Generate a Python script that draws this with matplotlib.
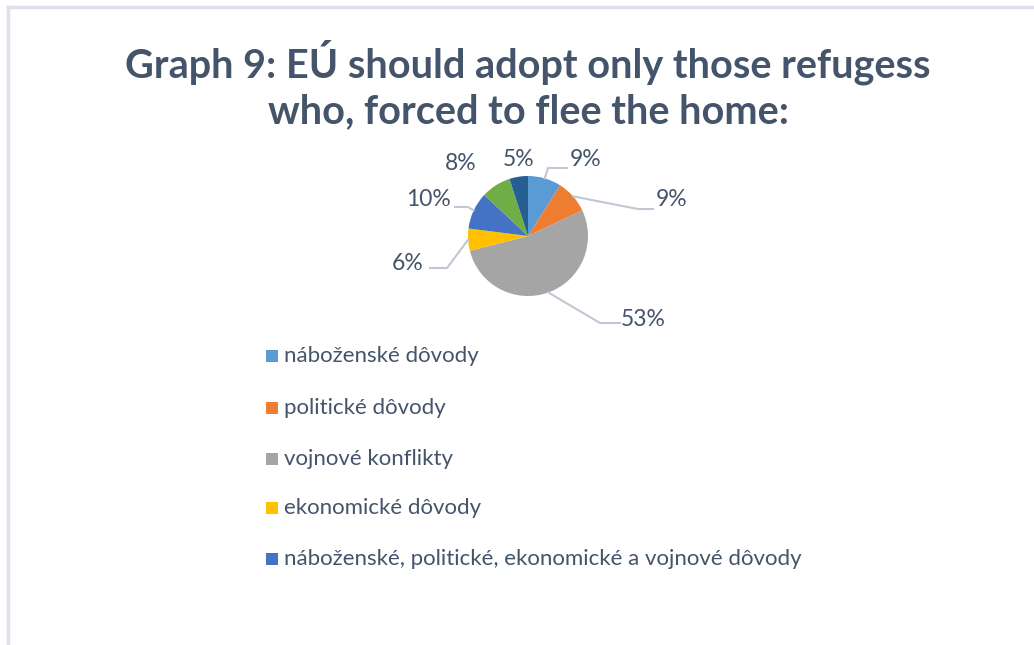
import matplotlib
matplotlib.use("Agg")
import matplotlib.pyplot as plt
import numpy as np
from matplotlib.patches import Rectangle
from matplotlib.lines import Line2D

categories = ["náboženské dôvody", "politické dôvody", "vojnové konflikty",
              "ekonomické dôvody", "náboženské, politické, ekonomické a vojnové dôvody",
              "iné dôvody", "nevie"]
values = [9, 9, 53, 6, 10, 8, 5]
labels = ["9%", "9%", "53%", "6%", "10%", "8%", "5%"]
colors = ["#5B9BD5", "#ED7D31", "#A5A5A5", "#FFC000", "#4472C4", "#70AD47", "#255E91"]
legend_shown = 5

W, H = 1034, 645
fig = plt.figure(figsize=(W / 100, H / 100), dpi=100)
ax = fig.add_axes([0, 0, 1, 1])
plt.rcParams['font.family'] = ['Lato', 'DejaVu Sans']

cx, cy, R = 528, H - 236, 60
wedges, _ = ax.pie(values, startangle=90, counterclock=False, center=(cx, cy),
                   radius=R, colors=colors, wedgeprops=dict(linewidth=0))
ax.set_xlim(0, W)
ax.set_ylim(0, H)
ax.set_aspect("equal")
ax.axis("off")

txt_col = "#44546A"
line_col = "#BFC8D4"

# border
ax.add_line(Line2D([8, 8], [0, H - 7], color="#DDE2EA", lw=2.5))
ax.add_line(Line2D([8, W], [H - 7, H - 7], color="#DDE2EA", lw=2.5))

# title
ax.text(cx, H - 62, "Graph 9: EÚ should adopt only those refugess", ha="center", va="center",
        fontsize=28.5, fontweight="bold", color=txt_col)
ax.text(cx, H - 112, "who, forced to flee the home:", ha="center", va="center",
        fontsize=28.5, fontweight="bold", color=txt_col)

# data labels: (text x offset, text y offset from center in px, leader points)
label_pos = [(586 - cx, 236 - 160), (672 - cx, 236 - 200), (643 - cx, 236 - 320),
             (408 - cx, 236 - 263), (428 - cx, 236 - 200), (461 - cx, 236 - 163),
             (519 - cx, 236 - 160)]
leaders = [[(548, 168), (567, 168)],
           [(638, 209), (653, 209)],
           [(600, 323), (620, 323)],
           [(447, 268), (430, 268)],
           [(468, 207), (455, 207)],
           None, None]
for w, lab, (dx, dy), ld in zip(wedges, labels, label_pos, leaders):
    ang = np.deg2rad((w.theta1 + w.theta2) / 2)
    ax.text(cx + dx, cy + dy, lab, ha="center", va="center", fontsize=16.5, color=txt_col)
    if ld is not None:
        ex, ey = cx + R * np.cos(ang), cy + R * np.sin(ang)
        xs = [ex] + [p[0] for p in ld]
        ys = [ey] + [H - p[1] for p in ld]
        ax.add_line(Line2D(xs, ys, color=line_col, lw=1.5))

# legend
ys = [356, 408, 459, 508, 559]
for i in range(legend_shown):
    y = H - ys[i]
    ax.add_patch(Rectangle((266, y - 6), 12, 12, facecolor=colors[i], edgecolor="none"))
    ax.text(284, y, categories[i], ha="left", va="center", fontsize=16, color=txt_col)

fig.savefig("out.png", dpi=100)
